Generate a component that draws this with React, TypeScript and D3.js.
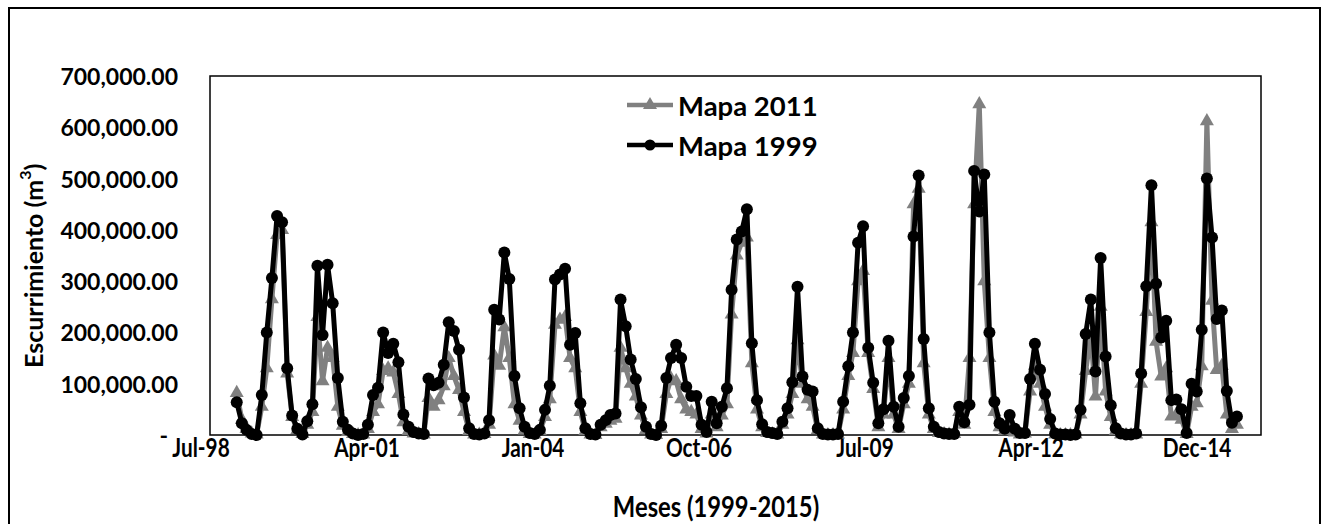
import React from "react";
import * as d3 from "d3";

// Monthly runoff (m3), Jan 1999 .. Jul 2015
const mapa1999: number[] = [
  // 1999
  64000, 23000, 10000, 2000, 0, 78000, 200000, 306000, 427000, 415000, 130000, 38000,
  // 2000
  12000, 1000, 27000, 60000, 330000, 195000, 332000, 257000, 111000, 26000, 10000, 3000,
  // 2001
  0, 2000, 20000, 78000, 92000, 200000, 160000, 178000, 142000, 40000, 16000, 6000,
  // 2002
  3000, 2000, 110000, 97000, 102000, 137000, 220000, 203000, 166000, 73000, 13000, 2000,
  // 2003
  1000, 3000, 29000, 244000, 225000, 356000, 304000, 115000, 52000, 16000, 4000, 2000,
  // 2004
  10000, 49000, 96000, 303000, 313000, 324000, 176000, 199000, 62000, 13000, 2000, 1000,
  // 2005
  20000, 29000, 39000, 42000, 264000, 212000, 147000, 109000, 54000, 16000, 2000, 0,
  // 2006
  18000, 111000, 150000, 176000, 150000, 94000, 76000, 76000, 20000, 6000, 65000, 23000,
  // 2007
  55000, 91000, 283000, 381000, 397000, 440000, 179000, 68000, 21000, 6000, 4000, 2000,
  // 2008
  26000, 52000, 103000, 289000, 114000, 88000, 85000, 13000, 2000, 1000, 1000, 2000,
  // 2009
  65000, 134000, 200000, 375000, 407000, 170000, 102000, 23000, 50000, 184000, 55000, 16000,
  // 2010
  72000, 115000, 387000, 506000, 187000, 52000, 16000, 6000, 3000, 2000, 2000, 55000,
  // 2011
  25000, 59000, 515000, 436000, 508000, 200000, 65000, 23000, 12000, 39000, 12000, 4000,
  // 2012
  4000, 109000, 178000, 127000, 80000, 31000, 3000, 1000, 1000, 0, 1000, 49000,
  // 2013
  197000, 264000, 124000, 345000, 153000, 58000, 13000, 3000, 1000, 1000, 3000, 120000,
  // 2014
  290000, 487000, 295000, 190000, 223000, 68000, 69000, 50000, 4000, 100000, 85000, 205000,
  // 2015
  500000, 385000, 226000, 243000, 86000, 24000, 36000,
];

const mapa2011: number[] = [
  // 1999
  82000, 30000, 12000, 3000, 1000, 55000, 130000, 265000, 390000, 400000, 120000, 35000,
  // 2000
  10000, 2000, 20000, 45000, 230000, 105000, 170000, 150000, 55000, 18000, 6000, 2000,
  // 2001
  0, 1000, 12000, 45000, 60000, 125000, 130000, 122000, 80000, 25000, 8000, 3000,
  // 2002
  2000, 1000, 72000, 55000, 68000, 95000, 150000, 115000, 88000, 45000, 8000, 1000,
  // 2003
  1000, 2000, 20000, 155000, 135000, 210000, 150000, 60000, 28000, 9000, 2000, 1000,
  // 2004
  8000, 35000, 70000, 215000, 225000, 230000, 150000, 130000, 45000, 8000, 1000, 0,
  // 2005
  15000, 22000, 28000, 32000, 170000, 130000, 100000, 75000, 38000, 10000, 1000, 0,
  // 2006
  12000, 80000, 110000, 105000, 70000, 50000, 45000, 40000, 12000, 3000, 40000, 15000,
  // 2007
  38000, 60000, 235000, 350000, 375000, 385000, 140000, 50000, 15000, 4000, 2000, 1000,
  // 2008
  20000, 40000, 80000, 185000, 100000, 70000, 55000, 10000, 1000, 0, 0, 1000,
  // 2009
  50000, 115000, 160000, 300000, 320000, 160000, 90000, 15000, 40000, 150000, 40000, 12000,
  // 2010
  60000, 100000, 450000, 480000, 140000, 40000, 12000, 4000, 2000, 1000, 2000, 45000,
  // 2011
  20000, 150000, 450000, 645000, 300000, 150000, 45000, 15000, 8000, 25000, 5000, 1000,
  // 2012
  3000, 85000, 135000, 100000, 55000, 20000, 1000, 0, 0, 0, 1000, 40000,
  // 2013
  125000, 195000, 75000, 250000, 85000, 35000, 8000, 1000, 0, 0, 1000, 100000,
  // 2014
  240000, 415000, 182000, 114000, 130000, 36000, 40000, 30000, 2000, 55000, 62000, 134000,
  // 2015
  612000, 262000, 127000, 135000, 40000, 12000, 20000,
];

const yTicks: number[] = [0, 100000, 200000, 300000, 400000, 500000, 600000, 700000];
const xTickLabels: string[] = ["Jul-98", "Apr-01", "Jan-04", "Oct-06", "Jul-09", "Apr-12", "Dec-14"];
const seriesNames: string[] = ["Mapa 2011", "Mapa 1999"];

const FONT = "Lato, 'Open Sans', 'Liberation Sans', sans-serif";
const GRAY = "#808080";

export default function App() {
  const W = 1322;
  const H = 524;
  const plot = { left: 210, right: 1261, top: 76, bottom: 435 };

  const axisStart = new Date(1998, 6, 24);
  const axisEnd = d3.timeDay.offset(axisStart, 6331);
  const x = d3.scaleTime().domain([axisStart, axisEnd]).range([plot.left, plot.right]);
  const y = d3.scaleLinear().domain([0, 700000]).range([plot.bottom, plot.top]);

  const dates = mapa1999.map((_, i) => new Date(1999, i, 1));
  const tickDates = xTickLabels.map((_, k) => d3.timeDay.offset(axisStart, 1000 * k));

  const line = d3
    .line<number>()
    .x((_, i) => x(dates[i]))
    .y((d) => y(d));

  const triPath = d3.symbol().type(d3.symbolTriangle).size(85)() || "";
  const fmt = d3.format(",.2f");

  return (
    <svg
      width={W}
      height={H}
      style={{ position: "absolute", left: 0, top: 0 }}
      fontFamily={FONT}
    >
      <rect x={0} y={0} width={W} height={H} fill="#fff" />
      {/* outer frame */}
      <rect x={9} y={8} width={1311} height={540} fill="none" stroke="#000" strokeWidth={2} />

      {/* plot area */}
      <rect
        x={plot.left}
        y={plot.top}
        width={plot.right - plot.left}
        height={plot.bottom - plot.top}
        fill="none"
        stroke="#000"
        strokeWidth={1.5}
      />

      {/* y tick labels */}
      {yTicks.map((t) => (
        <text
          key={t}
          x={t === 0 ? 168 : 178}
          y={y(t)}
          textAnchor="end"
          dominantBaseline="central"
          fontSize={23}
          fontWeight={700}
        >
          {t === 0 ? "-" : fmt(t)}
        </text>
      ))}

      {/* x tick labels */}
      {tickDates.map((d, k) => (
        <text
          key={k}
          transform={`translate(${x(d) - 9},447) scale(0.8,1)`}
          textAnchor="middle"
          dominantBaseline="central"
          fontSize={26}
          fontWeight={700}
        >
          {xTickLabels[k]}
        </text>
      ))}

      {/* axis titles */}
      <text
        transform="translate(716,506) scale(0.82,1)"
        textAnchor="middle"
        dominantBaseline="central"
        fontSize={29}
        fontWeight={700}
      >
        Meses (1999-2015)
      </text>
      <text
        transform="translate(33,368) rotate(-90)"
        textAnchor="start"
        dominantBaseline="central"
        fontSize={25}
        fontWeight={700}
      >
        Escurrimiento (m
        <tspan fontSize={16} dy={-9}>
          3
        </tspan>
        <tspan dy={9}>)</tspan>
      </text>

      {/* Mapa 2011 series (gray, triangles) */}
      <path d={line(mapa2011) || ""} fill="none" stroke={GRAY} strokeWidth={5} strokeLinejoin="round" />
      {mapa2011.map((v, i) => (
        <path key={"g" + i} d={triPath} transform={`translate(${x(dates[i])},${y(v)})`} fill={GRAY} />
      ))}

      {/* Mapa 1999 series (black, circles) */}
      <path d={line(mapa1999) || ""} fill="none" stroke="#000" strokeWidth={5} strokeLinejoin="round" />
      {mapa1999.map((v, i) => (
        <circle key={"b" + i} cx={x(dates[i])} cy={y(v)} r={6} fill="#000" />
      ))}

      {/* legend */}
      <g>
        <line x1={627} x2={673} y1={105} y2={105} stroke={GRAY} strokeWidth={4.5} />
        <path d={triPath} transform="translate(650,105)" fill={GRAY} />
        <text x={678} y={105} dominantBaseline="central" fontSize={27.5} fontWeight={700}>
          {seriesNames[0]}
        </text>
        <line x1={627} x2={673} y1={145} y2={145} stroke="#000" strokeWidth={4.5} />
        <circle cx={650} cy={145} r={5.5} fill="#000" />
        <text x={678} y={145} dominantBaseline="central" fontSize={27.5} fontWeight={700}>
          {seriesNames[1]}
        </text>
      </g>
    </svg>
  );
}
